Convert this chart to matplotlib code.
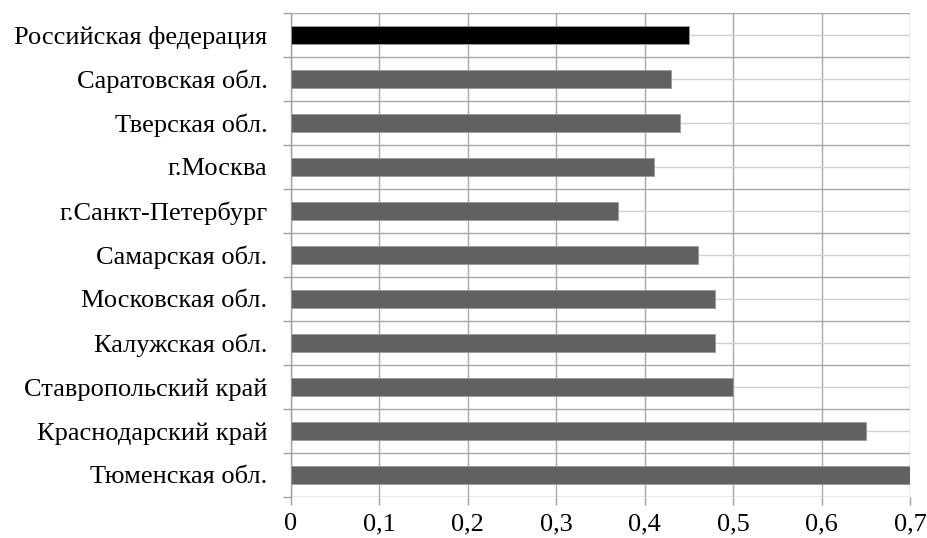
import matplotlib
matplotlib.use("Agg")
import matplotlib.pyplot as plt
import numpy as np

categories = ["Российская федерация", "Саратовская обл.", "Тверская обл.", "г.Москва",
              "г.Санкт-Петербург", "Самарская обл.", "Московская обл.", "Калужская обл.",
              "Ставропольский край", "Краснодарский край", "Тюменская обл."]
values = [0.45, 0.43, 0.44, 0.41, 0.37, 0.46, 0.48, 0.48, 0.50, 0.65, 0.70]
colors = ["#000000"] + ["#616161"] * 10
xticks = [0, 0.1, 0.2, 0.3, 0.4, 0.5, 0.6, 0.7]
xticklabels = ["0", "0,1", "0,2", "0,3", "0,4", "0,5", "0,6", "0,7"]

plt.rcParams['font.family'] = ['Liberation Serif', 'DejaVu Serif']

fig = plt.figure(figsize=(9.28, 5.38), dpi=100)
ax = fig.add_axes([291/928, 1-497/538, (910-291)/928, (497-12.7)/538])

n = len(categories)
ypos = np.arange(n)
ax.barh(ypos, values, height=0.4, color=colors, edgecolor="#9a9a9a", linewidth=0.6, zorder=3)
ax.set_ylim(n - 0.5, -0.5)
ax.set_xlim(0, 0.7)

ax.set_yticks(ypos)
ax.set_yticklabels(categories, fontsize=19)
ax.set_yticks(np.arange(n + 1) - 0.5, minor=True)
ax.tick_params(axis='y', which='major', length=0, pad=17)
ax.tick_params(axis='y', which='minor', length=6, color="#a0a0a0", width=1)

ax.set_xticks(xticks)
ax.set_xticklabels(xticklabels, fontsize=19)
ax.tick_params(axis='x', which='major', length=6, color="#a0a0a0", width=1, pad=5.5)

ax.grid(axis='x', which='major', color="#a8a8a8", linewidth=1, zorder=0)
ax.grid(axis='y', which='major', color="#d0d0d0", linewidth=1, zorder=0)
ax.grid(axis='y', which='minor', color="#a8a8a8", linewidth=1, zorder=0)
ax.set_axisbelow(True)

for s in ["top", "right", "bottom"]:
    ax.spines[s].set_visible(False)
ax.spines["left"].set_color("#a0a0a0")
ax.spines["left"].set_linewidth(1)

fig.savefig("out.png", dpi=100)
